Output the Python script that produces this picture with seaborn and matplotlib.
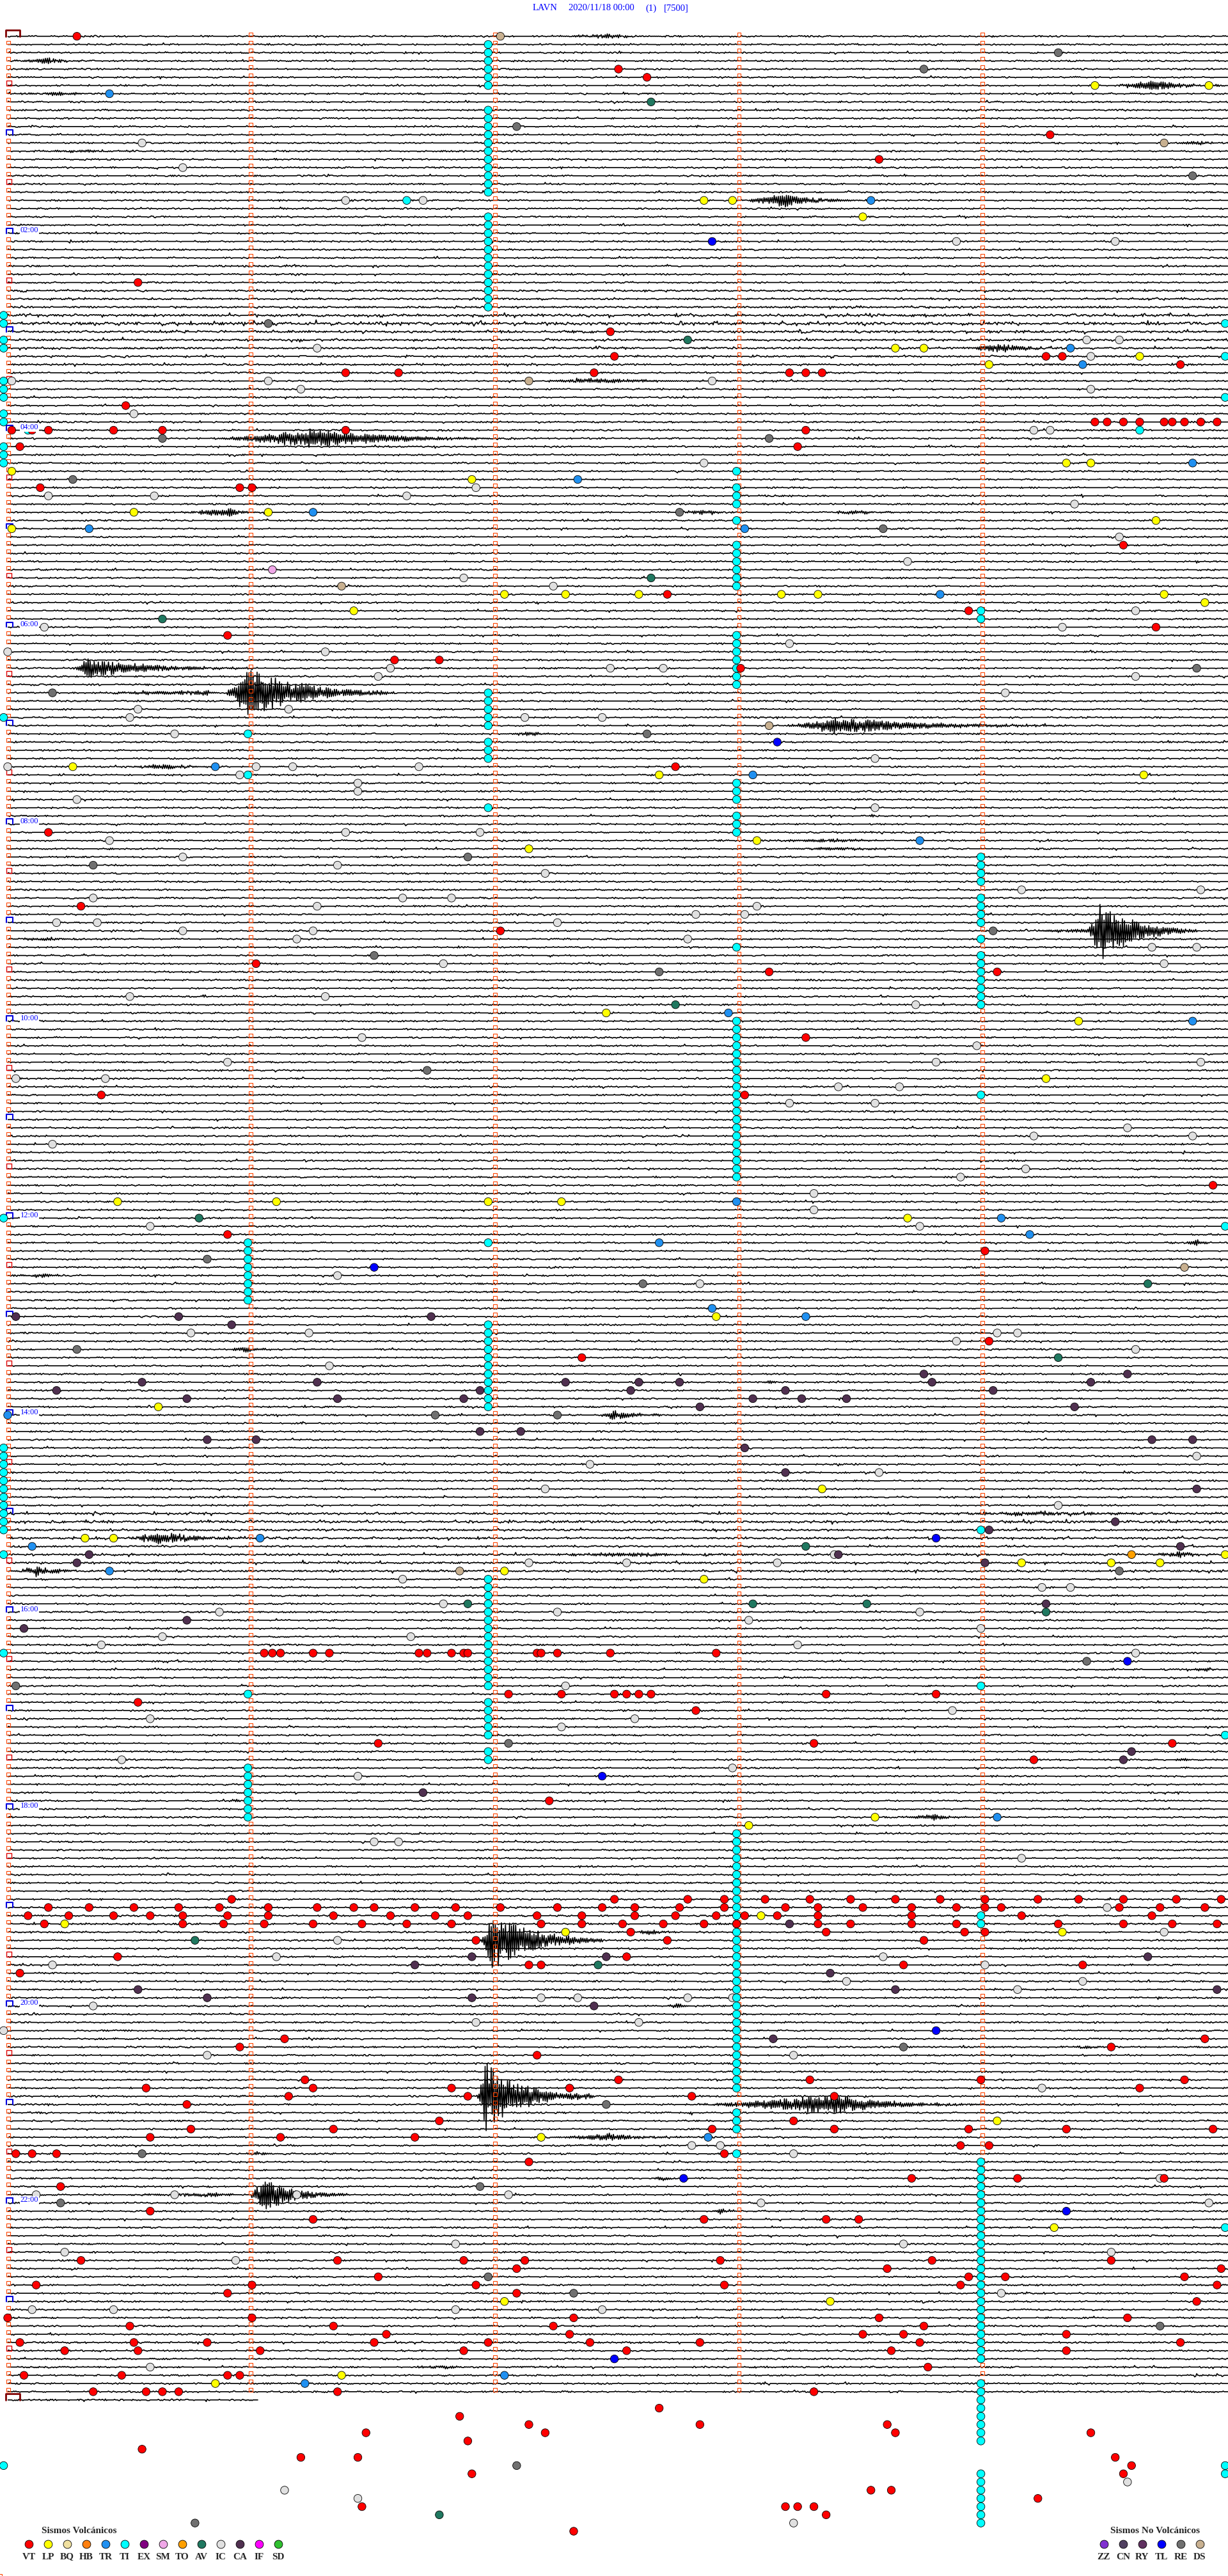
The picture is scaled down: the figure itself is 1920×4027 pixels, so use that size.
import numpy as np
import pandas as pd
import matplotlib
matplotlib.use("Agg")
import matplotlib.pyplot as plt
import seaborn as sns
from matplotlib.collections import LineCollection

# cabecera del helicorder
ESTACION = "LAVN"
FECHA = "2020/11/18 00:00"
CANAL = "(1)"
ESCALA = "[7500]"

N_FILAS = 289        # filas de 5 minutos, la ultima incompleta
FIN_ULTIMA = 61.6    # segundos dibujados en la ultima fila

TIPOS_VOLC = ["VT", "LP", "BQ", "HB", "TR", "TI", "EX", "SM", "TO", "AV", "IC", "CA", "IF", "SD"]
COLORES_VOLC = ["#ff0000", "#ffff00", "#f0e0a0", "#ff8010", "#2090f0", "#00ffff", "#800080",
                "#f0a8e8", "#ffa000", "#207860", "#e0e0e0", "#503050", "#ff00ff", "#30c030"]
TIPOS_NOVOLC = ["ZZ", "CN", "RY", "TL", "RE", "DS"]
COLORES_NOVOLC = ["#8030d0", "#504060", "#603060", "#0000ff", "#707070", "#c8b090"]

# eventos: (fila de 5 min, segundo dentro de la fila)
VT = [(0, 17), (4, 150), (5, 157), (12, 256), (15, 214), (30, 32), (36, 148),
      (39, 149), (39, 255), (39, 259), (40, 288),
      (41, 83), (41, 96), (41, 144), (41, 192), (41, 196), (41, 200), (45, 29),
      (47, 267), (47, 270), (47, 274), (47, 278), (47, 284), (47, 286), (47, 289), (47, 293), (47, 297),
      (48, 1), (48, 6), (48, 10), (48, 26), (48, 38), (48, 83), (48, 196),
      (50, 3), (50, 194), (55, 8), (55, 57), (55, 60), (62, 274), (68, 162), (70, 236), (72, 282), (73, 54),
      (76, 95), (76, 106), (77, 180), (89, 164), (97, 10), (106, 18), (109, 121), (113, 61),
      (114, 187), (114, 243), (122, 196), (129, 23), (129, 181), (140, 296), (146, 54), (148, 240),
      (159, 241), (161, 141),
      (197, 63), (197, 65), (197, 67), (197, 75), (197, 79), (197, 101), (197, 103), (197, 109),
      (197, 112), (197, 113), (197, 130), (197, 131), (197, 135), (197, 148), (197, 174),
      (202, 123), (202, 136), (202, 149), (202, 152), (202, 155), (202, 158), (202, 201), (202, 228),
      (203, 32), (204, 169), (208, 91), (208, 198), (208, 286), (210, 252), (215, 133),
      (227, 55), (227, 149), (227, 167), (227, 176), (227, 186), (227, 197), (227, 207), (227, 218),
      (227, 229), (227, 240), (227, 253), (227, 263), (227, 274), (227, 287), (227, 298),
      (228, 10), (228, 20), (228, 31), (228, 42), (228, 52), (228, 64), (228, 76), (228, 85), (228, 90),
      (228, 100), (228, 110), (228, 121), (228, 135), (228, 146), (228, 154), (228, 165), (228, 176),
      (228, 191), (228, 199), (228, 210), (228, 222), (228, 233), (228, 240), (228, 244), (228, 273),
      (228, 283), (228, 294),
      (229, 5), (229, 15), (229, 26), (229, 35), (229, 43), (229, 54), (229, 64), (229, 80), (229, 94),
      (229, 105), (229, 113), (229, 130), (229, 141), (229, 154), (229, 164), (229, 174), (229, 181),
      (229, 189), (229, 199), (229, 222), (229, 249), (229, 281),
      (230, 9), (230, 43), (230, 53), (230, 63), (230, 75), (230, 87), (230, 98), (230, 109), (230, 131),
      (230, 141), (230, 151), (230, 161), (230, 171), (230, 179), (230, 199), (230, 207), (230, 222),
      (230, 233), (230, 258), (230, 274), (230, 286), (230, 297),
      (231, 153), (231, 201), (231, 235), (231, 240),
      (232, 115), (232, 162), (232, 225), (234, 27), (234, 152), (235, 128), (235, 131), (235, 220),
      (235, 264), (236, 3), (244, 68), (244, 294), (245, 57), (245, 271), (246, 130),
      (249, 73), (249, 150), (249, 197), (249, 239), (249, 289),
      (250, 34), (250, 75), (250, 109), (250, 138), (250, 278),
      (251, 69), (251, 113), (251, 168), (251, 203), (252, 44), (254, 106), (254, 193),
      (255, 45), (255, 80), (255, 173), (255, 203), (255, 236), (255, 260), (255, 296),
      (256, 35), (256, 67), (256, 100), (257, 234), (257, 241),
      (258, 2), (258, 6), (258, 12), (258, 176), (259, 128),
      (261, 222), (261, 248), (261, 284), (262, 13), (265, 35),
      (266, 75), (266, 171), (266, 201), (266, 209),
      (271, 18), (271, 81), (271, 112), (271, 127), (271, 175), (271, 227), (271, 271),
      (272, 125), (272, 216), (272, 298), (273, 91), (273, 236), (273, 245), (273, 289),
      (274, 7), (274, 60), (274, 115), (274, 176), (274, 234), (274, 297),
      (275, 54), (275, 125), (276, 292),
      (278, 0), (278, 60), (278, 139), (278, 214), (278, 275),
      (279, 30), (279, 80), (279, 134), (279, 225),
      (280, 93), (280, 138), (280, 210), (280, 220), (280, 260),
      (281, 3), (281, 31), (281, 49), (281, 90), (281, 118), (281, 143), (281, 170), (281, 224), (281, 288),
      (282, 14), (282, 32), (282, 62), (282, 112), (282, 152), (282, 217), (282, 260),
      (284, 226), (285, 4), (285, 28), (285, 54), (285, 57),
      (287, 21), (287, 34), (287, 38), (287, 42), (287, 81), (287, 198),
      (289, 160), (290, 111), (291, 128), (291, 170), (291, 216),
      (292, 88), (292, 132), (292, 218), (292, 266), (293, 113), (294, 33),
      (295, 72), (295, 86), (295, 272), (296, 276), (297, 114), (297, 274),
      (299, 212), (299, 217), (300, 253), (301, 87), (301, 191), (301, 194), (301, 198), (302, 201), (304, 139)]

LP = [(6, 267), (6, 295), (20, 171), (20, 178), (22, 210), (38, 218), (38, 225), (39, 278), (40, 241),
      (52, 260), (52, 266), (53, 1), (54, 114), (58, 31), (58, 64), (59, 282), (60, 1),
      (68, 122), (68, 137), (68, 155), (68, 190), (68, 199), (68, 284), (69, 294), (70, 85),
      (89, 16), (90, 160), (90, 279), (98, 184), (99, 128), (119, 147), (120, 263), (127, 255),
      (142, 27), (142, 66), (142, 118), (142, 136), (144, 221), (156, 174), (167, 37), (177, 200),
      (183, 19), (183, 26), (185, 299), (186, 249), (186, 271), (186, 283), (187, 122), (188, 171),
      (217, 213), (218, 182), (229, 185), (230, 14), (231, 137), (231, 259), (254, 243), (256, 131),
      (267, 257), (276, 122), (276, 202), (285, 82), (286, 51)]

IC = [(13, 33), (16, 43), (20, 83), (20, 102), (25, 233), (25, 272), (37, 265), (37, 273), (38, 76),
      (39, 266), (42, 1), (42, 64), (42, 173), (43, 72), (43, 266), (46, 31), (48, 252), (48, 256),
      (52, 171), (55, 115), (56, 10), (56, 36), (56, 98), (57, 262), (61, 273), (64, 221), (66, 112),
      (67, 134), (70, 277), (72, 9), (72, 259), (74, 192), (75, 0), (75, 78), (77, 94), (77, 148),
      (77, 161), (78, 91), (78, 277), (80, 245), (82, 32), (82, 69), (83, 30), (83, 127), (83, 146),
      (85, 41), (88, 213), (89, 0), (89, 61), (89, 70), (89, 101), (90, 57), (91, 86), (92, 86),
      (93, 17), (94, 213), (97, 83), (97, 116), (98, 25), (100, 43), (101, 81), (102, 132),
      (104, 249), (104, 293), (105, 21), (105, 97), (105, 109), (106, 76), (106, 184), (107, 169),
      (107, 181), (108, 12), (108, 22), (108, 135), (109, 43), (109, 75), (110, 71), (110, 167),
      (111, 281), (111, 292), (113, 107), (113, 284), (117, 30), (117, 78), (118, 223),
      (122, 87), (123, 238), (125, 54), (125, 228), (125, 293), (127, 2), (127, 24), (128, 204),
      (128, 219), (130, 192), (130, 213), (133, 275), (134, 252), (134, 291), (135, 11), (138, 250),
      (139, 234), (141, 198), (143, 198), (145, 35), (145, 224), (151, 81), (152, 170),
      (158, 45), (158, 74), (158, 243), (158, 248), (159, 233), (160, 277), (162, 79), (173, 292),
      (174, 143), (175, 214), (177, 132), (179, 258), (185, 203), (186, 128), (186, 152), (186, 189),
      (188, 97), (189, 254), (189, 261), (191, 107), (192, 52), (192, 135), (192, 224), (193, 182),
      (194, 239), (195, 38), (195, 99), (196, 23), (196, 194), (197, 277), (201, 137), (204, 232),
      (205, 35), (205, 154), (206, 136), (210, 28), (211, 178), (212, 86), (220, 90), (220, 96),
      (222, 249), (228, 270), (231, 284), (232, 81), (234, 66), (234, 215), (235, 11), (235, 240),
      (237, 206), (237, 264), (238, 248), (239, 131), (239, 140), (239, 167), (239, 178), (240, 21),
      (242, 115), (242, 155), (243, -1), (246, 49), (246, 193), (250, 254), (257, 168), (257, 175),
      (258, 193), (261, 283), (263, 7), (263, 41), (263, 71), (263, 123), (264, 185), (264, 295),
      (269, 110), (269, 220), (270, 14), (270, 271), (271, 56), (275, 244), (277, 6), (277, 26),
      (277, 110), (277, 146), (284, 35), (298, 275), (299, 68), (300, 86), (303, 193)]

# tremor: rachas de filas consecutivas (primera, ultima, segundo)
TI_RACHAS = [(1, 6, 118), (9, 19, 118), (22, 33, 118), (80, 84, 118), (86, 88, 118), (94, 94, 118),
             (147, 147, 118), (157, 167, 118), (188, 201, 118), (203, 207, 118), (209, 210, 118),
             (53, 53, 179), (55, 57, 179), (59, 59, 179), (62, 67, 179), (73, 79, 179), (91, 93, 179),
             (95, 97, 179), (111, 111, 179), (120, 139, 179), (219, 250, 179), (253, 255, 179), (258, 258, 179),
             (70, 71, 239), (100, 103, 239), (105, 108, 239), (110, 110, 239), (112, 118, 239), (129, 129, 239),
             (182, 182, 239), (201, 201, 239), (229, 230, 239), (259, 283, 239), (286, 293, 239), (297, 303, 239),
             (85, 85, 59), (90, 90, 59), (147, 154, 59), (202, 202, 59), (211, 217, 59),
             (34, 35, -1), (37, 38, -1), (42, 44, -1), (46, 47, -1), (50, 52, -1), (83, 83, -1),
             (144, 144, -1), (172, 182, -1), (185, 185, -1), (197, 197, -1), (296, 296, -1),
             (35, 35, 299), (39, 39, 299), (44, 44, 299), (145, 145, 299), (207, 207, 299),
             (267, 267, 299), (296, 297, 299)]
TI_SUELTOS = [(20, 98), (48, 5), (48, 278)]

TR = [(7, 25), (20, 212), (38, 261), (40, 264), (52, 291), (54, 140), (58, 75), (60, 20), (60, 181),
      (68, 229), (89, 51), (90, 183), (98, 224), (119, 177), (120, 291), (142, 179), (144, 244),
      (146, 251), (147, 160), (155, 173), (156, 196), (168, 0), (183, 62), (184, 6), (187, 25),
      (217, 243), (256, 172), (285, 122), (286, 73)]
TL = [(25, 173), (86, 189), (150, 90), (183, 228), (198, 275), (212, 146), (243, 228), (261, 166),
      (265, 260), (283, 149)]
RE = [(2, 258), (4, 225), (11, 125), (17, 291), (35, 64), (49, 38), (49, 187), (54, 16), (58, 165),
      (60, 215), (77, 292), (80, 11), (85, 157), (100, 113), (101, 21), (109, 242), (112, 90),
      (114, 160), (126, 103), (149, 49), (152, 156), (160, 17), (168, 105), (168, 135), (187, 273),
      (198, 265), (201, 2), (208, 123), (245, 220), (252, 147), (258, 33), (262, 116), (264, 13),
      (273, 118), (275, 139), (279, 283), (296, 125), (303, 46)]
AV = [(8, 158), (37, 167), (66, 158), (71, 38), (118, 164), (144, 47), (152, 280), (161, 258),
      (184, 196), (191, 113), (191, 183), (191, 211), (192, 255), (232, 46), (235, 145), (302, 106)]
DS = [(0, 121), (13, 284), (42, 128), (67, 82), (84, 187), (150, 289), (187, 111)]
CA = [(156, 2), (156, 42), (156, 104), (157, 55), (163, 225), (163, 275),
      (164, 33), (164, 76), (164, 137), (164, 155), (164, 165), (164, 227), (164, 266),
      (165, 12), (165, 116), (165, 153), (165, 191), (165, 242),
      (166, 44), (166, 81), (166, 112), (166, 183), (166, 195), (166, 206), (167, 170), (167, 262),
      (170, 116), (170, 126), (171, 49), (171, 61), (171, 281), (171, 291), (172, 181), (175, 191),
      (177, 292), (181, 272), (182, 241), (184, 288), (185, 20), (185, 204), (186, 17), (186, 240),
      (191, 255), (193, 44), (194, 4), (209, 276), (210, 274), (214, 102), (230, 192),
      (234, 114), (234, 147), (234, 280), (235, 100), (236, 202), (238, 32), (238, 218), (238, 297),
      (239, 49), (239, 114), (240, 144), (244, 188)]
SM = [(65, 65)]
TO = [(185, 276)]

# senales visibles en la traza: (fila, inicio s, fin s, amplitud px, fraccion del maximo)
SENALES = [(0, 130, 165, 3, 0.5), (3, 0, 20, 5, 0.5), (6, 271, 298, 10, 0.4), (7, 0, 26, 3, 0.5),
           (13, 284, 300, 3, 0.5), (14, 0, 40, 2, 0.5), (20, 179, 212, 11, 0.35), (38, 232, 262, 7, 0.4),
           (42, 128, 180, 4, 0.3), (49, 48, 125, 15, 0.35), (58, 41, 63, 7, 0.6), (58, 164, 180, 4, 0.4),
           (58, 200, 219, 4, 0.4), (77, 16, 60, 16, 0.08), (80, 15, 53, 4, 0.9), (80, 53, 95, 42, 0.15),
           (84, 189, 262, 13, 0.2), (85, 120, 137, 3, 0.5), (89, 25, 54, 4, 0.5), (98, 185, 222, 3, 0.5),
           (99, 180, 230, 2, 0.5), (109, 242, 300, 4, 0.5), (109, 265, 292, 45, 0.12), (110, 0, 20, 3, 0.5),
           (147, 288, 296, 6, 0.5), (151, 0, 18, 3, 0.5), (160, 54, 68, 4, 0.3), (164, 184, 191, 3, 0.5),
           (168, 145, 164, 8, 0.2), (180, 210, 300, 3, 0.5), (183, 27, 62, 10, 0.3), (185, 280, 298, 5, 0.4),
           (185, 120, 190, 3, 0.5), (187, 0, 24, 7, 0.3), (199, 290, 299, 4, 0.5), (210, 286, 292, 3, 0.5),
           (215, 54, 58, 4, 0.5), (217, 217, 238, 5, 0.5), (231, 153, 166, 4, 0.4), (232, 116, 146, 50, 0.1),
           (240, 162, 168, 6, 0.4), (245, 261, 269, 3, 0.5), (251, 115, 144, 55, 0.08), (252, 165, 240, 16, 0.5),
           (256, 131, 172, 6, 0.4), (258, 58, 68, 4, 0.3), (261, 157, 167, 4, 0.4), (263, 21, 59, 3, 0.8),
           (263, 59, 84, 28, 0.15), (265, 172, 180, 4, 0.4), (284, 97, 118, 3, 0.5)]

# filas con ruido de fondo mas fuerte
FILAS_RUIDO = [31, 32, 33, 34, 35, 36, 37, 38, 39, 40, 180, 181, 182, 183, 184, 185, 186, 187]
GANANCIA_RUIDO = [1.3, 1.3, 1.4, 1.9, 2.4, 1.7, 1.5, 1.4, 1.3, 1.3, 1.5, 1.9, 1.4, 1.6, 1.3, 1.5, 1.4, 1.5]

# geometria de la imagen
PX_S = 382 / 60.0    # pixeles por segundo
PX_F = 12.83         # pixeles por fila
X0, Y0 = 12, 56.7


def seg(x):
    return (x - X0) / PX_S


def fila(y):
    return (y - Y0) / PX_F


sns.set_style("white")
plt.rcParams["font.family"] = ["Liberation Serif", "DejaVu Serif"]

fig = plt.figure(figsize=(19.2, 40.27), dpi=100)
ax = fig.add_axes([0, 0, 1, 1])

# trazas sismicas
rng = np.random.default_rng(11)
ganancia = dict(zip(FILAS_RUIDO, GANANCIA_RUIDO))
trazas = []
for r in range(N_FILAS):
    fin = 300 if r < N_FILAS - 1 else FIN_ULTIMA
    s = np.arange(0, fin, 0.25)
    g = ganancia.get(r, 1.0)
    y = np.round(rng.normal(0, 0.45 * g, s.size))
    y += np.where(rng.random(s.size) < 0.015, rng.choice([-1.5, 1.5], s.size), 0) * g
    for fr, t0, t1, amp, pk in SENALES:
        if fr != r:
            continue
        u = (s - t0) / (t1 - t0)
        env = np.where(u < pk, (u / pk) ** 1.5, np.exp(-3.0 * (u - pk) / (1 - pk)))
        env = np.where((u >= 0) & (u <= 1), env, 0)
        alt = np.where(np.arange(s.size) % 2 == 0, 1, -1)
        y += amp * env * alt * rng.uniform(0.3, 1, s.size)
    trazas.append(np.column_stack([s, r + y / PX_F]))
ax.add_collection(LineCollection(trazas, colors="black", linewidths=1.2, zorder=2))

# marcas de minuto y de hora
for r in range(N_FILAS):
    mins = [59.7, 119.7, 179.6, 239.4] if r < N_FILAS - 1 else []
    ax.scatter(mins, [r - 0.24] * len(mins), marker="s", s=18, facecolors="none",
               edgecolors="#ff4500", linewidths=0.8, zorder=3)
    if r % 12 == 0 and r not in (0, N_FILAS - 1):
        ax.plot([-0.3, -0.3, 1.26, 1.26], [r, r - 0.62, r - 0.62, r], color="#0000e0", lw=1.5, zorder=4)
        if r % 24 == 0:
            ax.text(3.1, r - 0.35, f"{r // 12:02d}:00", color="#0000ff", fontsize=9,
                    ha="left", va="center", zorder=6,
                    bbox=dict(facecolor="white", edgecolor="none", pad=0.5))
    elif r in (0, N_FILAS - 1):
        ax.plot([-0.47, -0.47, 2.98, 2.98], [r, r - 0.78, r - 0.78, r], color="#800000", lw=2, zorder=4)
    elif r % 6 == 0:
        ax.scatter([0.35], [r - 0.31], marker="s", s=33, facecolors="none",
                   edgecolors="#e00000", linewidths=1.0, zorder=3)
    else:
        ax.scatter([0.2], [r - 0.24], marker="s", s=18, facecolors="none",
                   edgecolors="#ff4500", linewidths=0.8, zorder=3)

# eventos clasificados
paleta = dict(zip(TIPOS_VOLC + TIPOS_NOVOLC, COLORES_VOLC + COLORES_NOVOLC))
TI = [(r, s) for a, b, s in TI_RACHAS for r in range(a, b + 1)] + TI_SUELTOS
listas = {"IC": IC, "RE": RE, "DS": DS, "AV": AV, "CA": CA, "TL": TL, "TR": TR,
          "LP": LP, "SM": SM, "TO": TO, "TI": TI, "VT": VT}
filas_df = [(r, s, t) for t, lst in listas.items() for r, s in lst]
df = pd.DataFrame(filas_df, columns=["fila", "seg", "tipo"])
sns.scatterplot(data=df, x="seg", y="fila", hue="tipo", palette=paleta, s=80,
                edgecolor="black", linewidth=0.6, legend=False, ax=ax, zorder=5)

# cabecera
ty = fila(13)
for txt, x in [(ESTACION, 833), (FECHA, 889), (CANAL, 1009), (ESCALA, 1038)]:
    ax.text(seg(x), ty, txt, color="#0000ff", fontsize=10.5, ha="left", va="center")

# leyendas
ax.text(seg(124), fila(3957), "Sismos Volcánicos", fontsize=11, fontweight="bold",
        ha="center", va="center")
for k, (t, c) in enumerate(zip(TIPOS_VOLC, COLORES_VOLC)):
    ax.scatter([seg(45 + 30 * k)], [fila(3977)], s=85, color=c, edgecolor="black", linewidth=0.6, zorder=5)
    ax.text(seg(45 + 30 * k), fila(3997), t, fontsize=11, fontweight="bold", ha="center", va="center")
ax.text(seg(1806), fila(3957), "Sismos No Volcánicos", fontsize=11, fontweight="bold",
        ha="center", va="center")
for k, (t, c) in enumerate(zip(TIPOS_NOVOLC, COLORES_NOVOLC)):
    ax.scatter([seg(1726 + 30 * k)], [fila(3977)], s=85, color=c, edgecolor="black", linewidth=0.6, zorder=5)
    ax.text(seg(1726 + 30 * k), fila(3997), t, fontsize=11, fontweight="bold", ha="center", va="center")

ax.set_xlim(seg(0), seg(1920))
ax.set_ylim(fila(4027), fila(0))
ax.set_axis_off()
fig.savefig("out.png", dpi=100, facecolor="white")
